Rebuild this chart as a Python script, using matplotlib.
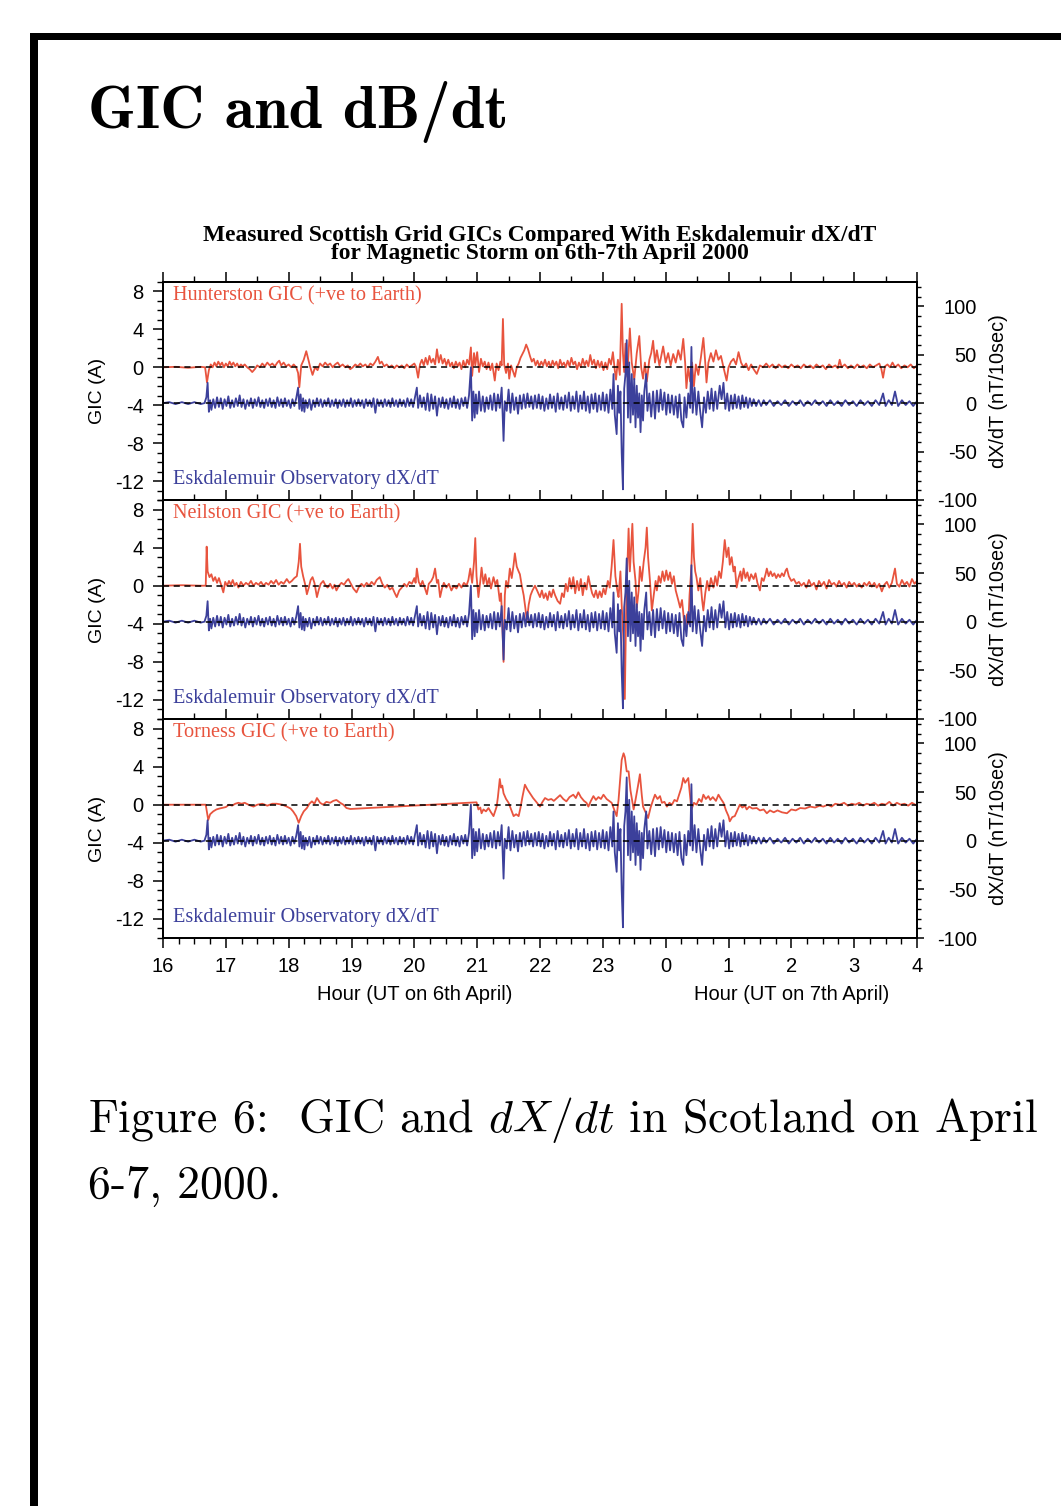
import numpy as np
import matplotlib
matplotlib.use('Agg')
import matplotlib.pyplot as plt
from matplotlib.patches import Rectangle
from matplotlib.ticker import MultipleLocator, FixedLocator
from matplotlib.transforms import blended_transform_factory

plt.rcParams['font.family'] = ['Liberation Sans', 'DejaVu Sans']
plt.rcParams['axes.unicode_minus'] = False
plt.rcParams['mathtext.fontset'] = 'cm'

RED = '#e8543e'
BLUE = '#3c409b'

# hour axis: 16..23 on 6th April, 0..4 on 7th April (stored as 16..28)
hour_ticks = list(range(16, 29))
hour_labels = ['16', '17', '18', '19', '20', '21', '22', '23', '0', '1', '2', '3', '4']
gic_ticks = [8, 4, 0, -4, -8, -12]
dxdt_ticks = [100, 50, 0, -50, -100]

site_names = ['Hunterston', 'Neilston', 'Torness']

# Eskdalemuir dX/dT (nT/10sec), (hour, value)
eskdalemuir = [
    (16.00, 0), (16.10, 1), (16.20, -1), (16.30, 1), (16.40, -1), (16.50, 1), (16.60, -1), (16.66, 0),
    (16.69, 6), (16.71, 21), (16.73, -9), (16.75, 3), (16.77, -7), (16.80, 4), (16.83, -5), (16.86, 6),
    (16.89, -4), (16.92, 5), (16.95, -6), (16.98, 4), (17.01, -3), (17.04, 7), (17.07, -5), (17.10, 3),
    (17.13, -4), (17.16, 5), (17.19, -3), (17.22, 8), (17.25, -4), (17.28, 4), (17.31, -6), (17.34, 3),
    (17.37, -3), (17.40, 5), (17.43, -5), (17.46, 4), (17.49, -3), (17.52, 6), (17.55, -4), (17.58, 3),
    (17.61, -5), (17.64, 4), (17.67, -3), (17.70, 5), (17.73, -4), (17.76, 3), (17.79, -5), (17.82, 6),
    (17.85, -3), (17.88, 4), (17.91, -4), (17.94, 5), (17.97, -3), (18.00, 3), (18.03, -5), (18.06, 4),
    (18.09, -3), (18.12, 5), (18.15, 16), (18.17, -6), (18.19, 9), (18.21, -8), (18.23, 5), (18.25, -9),
    (18.27, 3), (18.30, -5), (18.33, 4), (18.36, -7), (18.39, 3), (18.42, -4), (18.45, 5), (18.48, -3),
    (18.51, 4), (18.54, -4), (18.57, 3), (18.60, -3), (18.63, 5), (18.66, -4), (18.69, 3), (18.72, -3),
    (18.75, 4), (18.78, -5), (18.81, 3), (18.84, -3), (18.87, 4), (18.90, -4), (18.93, 3), (18.96, -3),
    (18.99, 5), (19.02, -4), (19.05, 3), (19.08, -3), (19.11, 4), (19.14, -3), (19.17, 3), (19.20, -5),
    (19.23, 4), (19.26, -3), (19.29, 3), (19.32, -4), (19.35, 5), (19.38, -10), (19.41, 4), (19.44, -3),
    (19.47, 3), (19.50, -4), (19.53, 4), (19.56, -3), (19.59, 3), (19.62, -4), (19.65, 5), (19.68, -3),
    (19.71, 3), (19.74, -4), (19.77, 4), (19.80, -3), (19.83, 3), (19.86, -4), (19.89, 5), (19.92, -3),
    (19.95, 4), (19.98, -4), (20.01, 6), (20.04, 16), (20.06, -5), (20.09, 8), (20.12, -4), (20.15, 6),
    (20.18, -7), (20.21, 10), (20.24, -8), (20.27, 9), (20.30, -6), (20.33, 7), (20.36, -13), (20.39, 5),
    (20.42, -4), (20.45, 6), (20.48, -5), (20.51, 4), (20.54, -6), (20.57, 5), (20.60, -4), (20.63, 7),
    (20.66, -5), (20.69, 4), (20.72, -6), (20.75, 5), (20.78, -3), (20.81, 6), (20.84, -5), (20.87, 8),
    (20.90, 37), (20.92, -18), (20.94, 12), (20.96, -15), (20.98, 9), (21.00, -11), (21.03, 12), (21.06, -8),
    (21.09, 7), (21.12, -9), (21.15, 6), (21.18, -6), (21.21, 8), (21.24, -7), (21.27, 10), (21.30, -8),
    (21.33, 9), (21.36, -5), (21.39, 16), (21.42, -39), (21.44, 2), (21.47, -8), (21.50, 14), (21.53, -10),
    (21.56, 10), (21.59, -7), (21.62, 6), (21.65, -11), (21.68, 8), (21.71, -6), (21.74, 9), (21.77, -5),
    (21.80, 10), (21.83, -4), (21.86, 7), (21.89, -6), (21.92, 8), (21.95, -5), (21.98, 9), (22.01, -6),
    (22.04, 7), (22.07, -8), (22.10, 5), (22.13, -6), (22.16, 9), (22.19, -5), (22.22, 7), (22.25, -9),
    (22.28, 10), (22.31, -6), (22.34, 6), (22.37, -7), (22.40, 8), (22.43, -5), (22.46, 11), (22.49, -8),
    (22.52, 7), (22.55, -6), (22.58, 12), (22.61, -9), (22.64, 8), (22.67, -6), (22.70, 12), (22.73, -8),
    (22.76, 7), (22.79, -10), (22.82, 9), (22.85, -6), (22.88, 10), (22.91, -9), (22.94, 8), (22.97, -7),
    (23.00, 11), (23.03, -8), (23.06, 9), (23.09, -10), (23.12, 14), (23.15, -6), (23.17, 30), (23.19, -12),
    (23.22, -32), (23.24, 18), (23.26, -10), (23.28, 12), (23.30, -51), (23.32, -89), (23.34, 15), (23.36, 30),
    (23.38, 65), (23.40, -15), (23.42, 42), (23.44, -20), (23.46, 30), (23.48, -12), (23.50, 25), (23.52, -25),
    (23.54, 18), (23.56, -15), (23.58, 10), (23.60, -30), (23.62, 8), (23.64, -18), (23.66, 12), (23.69, 30),
    (23.71, -8), (23.74, 10), (23.77, -14), (23.80, 12), (23.83, -16), (23.86, 13), (23.89, -9), (23.92, 14),
    (23.95, -7), (23.98, 11), (24.01, -12), (24.04, 9), (24.07, -10), (24.10, 8), (24.13, -12), (24.16, 7),
    (24.19, -15), (24.22, 9), (24.25, -18), (24.28, -25), (24.30, 6), (24.33, -15), (24.36, 10), (24.39, -5),
    (24.41, 58), (24.43, -10), (24.46, 16), (24.49, -12), (24.52, 12), (24.55, -9), (24.58, -25), (24.61, 6),
    (24.64, -10), (24.67, 12), (24.70, -6), (24.73, 15), (24.76, -8), (24.79, 12), (24.82, -6), (24.86, 18),
    (24.89, 4), (24.92, 21), (24.95, -6), (24.98, 10), (25.01, -8), (25.04, 8), (25.07, -6), (25.10, 9),
    (25.13, -5), (25.16, 7), (25.19, -6), (25.22, 8), (25.25, -4), (25.28, 6), (25.31, -5), (25.34, 5),
    (25.37, -3), (25.40, 4), (25.44, -3), (25.48, 3), (25.52, -3), (25.56, 3), (25.60, -2), (25.66, 3),
    (25.72, -3), (25.78, 2), (25.84, -2), (25.90, 3), (25.96, -3), (26.02, 2), (26.08, -2), (26.14, 3),
    (26.20, -3), (26.26, 2), (26.32, -2), (26.38, 3), (26.44, -2), (26.50, 2), (26.56, -3), (26.62, 3),
    (26.68, -2), (26.74, 2), (26.80, -3), (26.86, 3), (26.92, -2), (26.98, 2), (27.04, -3), (27.10, 3),
    (27.16, -2), (27.22, 2), (27.28, -3), (27.34, 3), (27.40, -2), (27.46, 10), (27.50, -3), (27.55, 3),
    (27.60, -2), (27.65, 12), (27.70, -3), (27.76, 3), (27.82, -2), (27.88, 2), (27.94, -3), (28.00, 2),
]

# Hunterston GIC (A)
hunterston = [
    (16.00, 0), (16.20, 0.05), (16.40, -0.05), (16.60, 0.05), (16.67, 0), (16.70, -1.6), (16.73, -0.3),
    (16.76, 0.3), (16.79, 0.0), (16.82, 0.5), (16.85, 0.1), (16.88, 0.6), (16.91, 0.2), (16.94, 0.5),
    (16.97, 0.0), (17.00, 0.4), (17.03, 0.1), (17.06, 0.6), (17.09, 0.2), (17.12, 0.5), (17.15, 0.1),
    (17.18, 0.4), (17.21, 0.0), (17.24, 0.3), (17.27, 0.1), (17.30, 0.3), (17.34, 0.0), (17.38, -0.2),
    (17.42, -0.5), (17.46, -0.2), (17.50, 0.2), (17.54, 0.0), (17.58, 0.4), (17.62, 0.1), (17.66, 0.5),
    (17.70, 0.2), (17.74, 0.4), (17.78, 0.1), (17.82, 0.5), (17.85, 0.7), (17.88, 0.2), (17.92, 0.5),
    (17.96, 0.1), (18.00, 0.3), (18.04, 0.0), (18.08, 0.3), (18.12, 0.0), (18.15, -0.6), (18.17, -2.1),
    (18.20, 0.2), (18.24, 0.8), (18.28, 1.7), (18.31, 0.9), (18.34, 0.1), (18.38, -0.8), (18.42, 0.0),
    (18.46, -0.3), (18.50, 0.4), (18.54, 0.1), (18.58, 0.5), (18.62, 0.2), (18.66, 0.4), (18.70, 0.0),
    (18.74, 0.3), (18.78, 0.5), (18.82, 0.1), (18.86, 0.3), (18.90, 0.0), (18.94, 0.2), (18.98, -0.2),
    (19.02, 0.0), (19.06, 0.3), (19.10, 0.1), (19.14, 0.4), (19.18, 0.1), (19.22, 0.3), (19.26, 0.0),
    (19.30, 0.4), (19.34, 0.2), (19.38, 0.6), (19.42, 1.1), (19.45, 0.4), (19.48, 0.6), (19.52, 0.1),
    (19.56, 0.3), (19.60, 0.0), (19.64, 0.2), (19.68, -0.1), (19.72, 0.2), (19.76, 0.0), (19.80, 0.2),
    (19.84, -0.1), (19.88, 0.3), (19.92, 0.0), (19.96, 0.2), (20.00, 0.4), (20.03, 0.0), (20.06, -1.1),
    (20.09, 0.3), (20.12, 0.8), (20.15, 0.2), (20.18, 1.0), (20.21, 0.3), (20.24, 1.2), (20.27, 0.5),
    (20.30, 0.9), (20.33, 0.3), (20.36, 1.9), (20.39, 0.5), (20.42, 1.3), (20.45, 0.4), (20.48, 0.9),
    (20.51, 0.2), (20.54, 0.8), (20.57, 0.1), (20.60, 0.5), (20.63, -0.1), (20.66, 0.6), (20.69, 0.1),
    (20.72, 0.5), (20.75, -0.2), (20.78, 0.7), (20.81, 0.0), (20.84, 0.8), (20.87, 0.3), (20.90, 2.1),
    (20.92, -0.9), (20.95, 1.5), (20.97, 0.2), (21.00, 1.6), (21.03, -0.5), (21.06, 0.9), (21.09, 0.1),
    (21.12, 0.6), (21.15, -0.2), (21.18, 0.5), (21.21, -0.3), (21.24, 0.4), (21.28, -1.4), (21.31, 0.4),
    (21.34, -0.3), (21.37, 0.6), (21.39, 0.2), (21.41, 5.1), (21.43, 0.3), (21.46, -0.6), (21.49, 0.4),
    (21.51, -1.2), (21.54, 0.2), (21.57, -0.4), (21.60, -1.0), (21.63, 0.0), (21.66, 0.4), (21.69, 1.0),
    (21.72, 1.4), (21.75, 1.8), (21.78, 2.4), (21.81, 1.9), (21.84, 1.2), (21.87, 0.6), (21.90, 0.9),
    (21.93, 0.2), (21.96, 0.7), (21.99, 0.1), (22.02, 0.6), (22.05, 0.2), (22.08, 0.8), (22.11, 0.1),
    (22.14, 0.6), (22.17, 0.0), (22.20, 0.7), (22.23, 0.2), (22.26, 0.6), (22.29, -0.1), (22.32, 0.8),
    (22.35, 0.2), (22.38, 0.5), (22.41, 0.0), (22.44, 0.7), (22.47, 0.1), (22.50, 1.0), (22.53, 0.3),
    (22.56, 0.6), (22.59, -0.2), (22.62, 0.5), (22.65, 0.0), (22.68, 0.9), (22.71, 0.2), (22.74, 0.7),
    (22.77, 0.1), (22.80, 1.3), (22.83, 0.3), (22.86, 0.8), (22.89, -0.1), (22.92, 0.7), (22.95, 0.0),
    (22.98, 0.6), (23.01, -0.3), (23.04, 0.5), (23.07, -0.2), (23.10, 0.9), (23.13, 0.3), (23.16, 1.6),
    (23.19, -0.3), (23.21, -1.3), (23.24, 0.8), (23.27, -0.8), (23.30, 6.7), (23.32, 1.5), (23.34, -0.5),
    (23.36, 2.5), (23.39, -1.0), (23.43, 4.1), (23.46, 0.5), (23.50, -1.3), (23.54, 1.5), (23.58, 3.3),
    (23.61, 0.0), (23.64, -1.2), (23.67, 0.5), (23.70, -1.5), (23.74, 0.8), (23.77, 1.5), (23.80, 2.8),
    (23.83, 0.5), (23.86, 1.8), (23.90, 0.2), (23.93, 1.2), (23.96, 2.2), (24.00, 0.5), (24.04, 1.5),
    (24.08, 0.2), (24.12, 1.4), (24.16, 0.5), (24.20, 1.8), (24.24, 0.8), (24.28, 3.0), (24.31, 0.5),
    (24.33, -2.2), (24.36, 0.0), (24.39, -1.5), (24.42, 0.5), (24.45, -2.0), (24.48, 0.3), (24.52, -0.8),
    (24.56, 1.0), (24.60, 3.1), (24.63, 0.5), (24.65, -1.6), (24.68, 0.5), (24.72, 1.5), (24.76, 0.6),
    (24.80, 1.8), (24.84, 0.8), (24.88, 1.2), (24.92, 0.0), (24.97, -1.4), (25.00, 0.0), (25.04, 0.6),
    (25.08, 0.9), (25.12, 0.3), (25.16, 1.6), (25.20, 0.5), (25.24, 0.0), (25.28, 0.4), (25.32, -0.3),
    (25.36, 0.3), (25.40, -0.2), (25.45, -0.7), (25.50, 0.2), (25.55, 0.0), (25.60, 0.4), (25.65, 0.0),
    (25.70, 0.3), (25.75, -0.1), (25.80, 0.3), (25.85, 0.0), (25.90, 0.2), (25.95, -0.1), (26.00, 0.3),
    (26.05, 0.0), (26.10, 0.2), (26.15, -0.1), (26.20, 0.3), (26.25, 0.0), (26.30, 0.2), (26.35, -0.1),
    (26.40, 0.3), (26.45, 0.0), (26.50, 0.2), (26.55, -0.2), (26.60, 0.3), (26.65, 0.0), (26.70, 0.2),
    (26.74, -0.1), (26.77, 0.8), (26.80, 0.0), (26.85, 0.3), (26.90, -0.1), (26.95, 0.2), (27.00, -0.1),
    (27.05, 0.3), (27.10, 0.0), (27.15, 0.2), (27.20, -0.1), (27.25, 0.3), (27.30, 0.0), (27.35, 0.2),
    (27.40, 0.4), (27.43, -0.1), (27.46, -1.1), (27.49, 0.1), (27.53, 0.3), (27.57, 0.0), (27.61, 0.5),
    (27.65, 0.0), (27.70, 0.3), (27.75, -0.1), (27.80, 0.2), (27.85, 0.0), (27.90, 0.3), (27.95, -0.1),
    (28.00, 0.2),
]

# Neilston GIC (A)
neilston = [
    (16.00, 0), (16.30, 0.05), (16.60, 0), (16.68, 0), (16.695, 4.1), (16.71, 1.5), (16.74, 0.9),
    (16.77, 1.2), (16.80, 0.5), (16.83, 0.9), (16.86, 0.3), (16.89, 0.8), (16.92, 0.2), (16.96, -0.7),
    (16.99, 0.4), (17.02, 0.0), (17.05, 0.5), (17.08, 0.1), (17.11, 0.6), (17.14, 0.0), (17.17, 0.3),
    (17.20, -0.2), (17.24, 0.4), (17.28, 0.0), (17.32, 0.3), (17.36, 0.1), (17.40, 0.5), (17.44, 0.0),
    (17.48, 0.3), (17.52, 0.1), (17.56, 0.4), (17.60, 0.0), (17.64, 0.3), (17.68, 0.1), (17.72, 0.5),
    (17.76, 0.2), (17.80, 0.6), (17.84, 0.1), (17.88, 0.4), (17.92, 0.2), (17.97, 0.7), (18.01, 0.3),
    (18.05, 0.5), (18.09, 0.8), (18.13, 1.0), (18.16, 2.5), (18.18, 4.4), (18.20, 2.0), (18.23, 1.0),
    (18.26, 0.2), (18.29, -0.9), (18.32, -0.2), (18.35, 0.6), (18.38, 0.9), (18.41, 0.3), (18.45, -1.2),
    (18.48, -0.4), (18.51, 0.2), (18.55, 0.5), (18.58, 0.1), (18.62, -0.2), (18.66, 0.2), (18.70, -0.3),
    (18.73, 0.1), (18.76, -0.5), (18.80, 0.0), (18.84, 0.3), (18.88, 0.1), (18.92, 0.5), (18.95, 0.7),
    (18.99, 0.2), (19.03, -0.3), (19.08, -0.7), (19.12, -0.1), (19.16, 0.2), (19.20, -0.1), (19.24, 0.3),
    (19.28, 0.0), (19.32, 0.4), (19.36, 0.1), (19.40, 0.6), (19.45, 0.9), (19.49, 0.2), (19.53, -0.2),
    (19.57, 0.1), (19.61, -0.4), (19.65, -0.2), (19.69, -0.8), (19.72, -1.2), (19.76, -0.5), (19.80, -0.2),
    (19.84, 0.2), (19.88, -0.1), (19.92, 0.4), (19.96, 0.2), (20.00, 0.8), (20.02, 0.3), (20.04, 1.8),
    (20.07, 0.4), (20.10, 0.0), (20.13, 0.5), (20.17, -0.3), (20.20, -0.9), (20.23, 0.2), (20.27, 0.5),
    (20.30, 0.9), (20.33, 1.8), (20.36, 0.3), (20.38, 0.6), (20.41, -1.2), (20.44, -0.3), (20.47, 0.3),
    (20.51, -0.2), (20.55, 0.2), (20.59, -0.5), (20.63, 0.0), (20.67, -0.3), (20.71, 0.2), (20.75, -0.2),
    (20.79, 0.3), (20.83, 0.0), (20.86, 0.6), (20.89, 1.8), (20.92, 0.3), (20.95, 2.5), (20.97, 5.0),
    (20.99, 1.0), (21.02, -1.2), (21.05, 0.5), (21.07, 1.9), (21.10, 0.2), (21.13, 1.2), (21.16, 0.0),
    (21.19, 0.8), (21.22, -0.3), (21.26, 0.9), (21.29, 0.1), (21.32, 0.6), (21.36, -1.6), (21.38, -0.8),
    (21.40, -4.0), (21.42, -8.0), (21.44, -1.0), (21.46, 0.5), (21.49, -0.2), (21.52, 1.8), (21.55, 0.8),
    (21.58, 2.2), (21.60, 3.4), (21.63, 2.0), (21.66, 1.5), (21.68, 1.2), (21.71, 0.0), (21.74, -1.0),
    (21.77, -2.5), (21.79, -3.7), (21.82, -2.0), (21.85, -1.0), (21.88, -0.5), (21.92, 0.0), (21.96, -0.6),
    (22.00, -1.2), (22.03, -0.5), (22.06, -1.3), (22.09, -0.8), (22.12, -1.5), (22.15, -0.6), (22.18, -1.2),
    (22.21, -0.4), (22.24, -1.0), (22.28, -1.6), (22.32, -1.9), (22.35, -0.8), (22.38, -1.2), (22.41, 0.2),
    (22.44, -0.6), (22.47, 0.8), (22.50, -0.3), (22.53, 0.9), (22.56, -0.8), (22.59, 0.5), (22.62, -0.5),
    (22.65, 0.7), (22.68, -1.0), (22.71, 0.3), (22.74, -0.4), (22.77, 1.0), (22.80, 0.0), (22.83, -0.8),
    (22.86, -1.2), (22.89, -0.5), (22.92, -1.3), (22.95, -0.6), (22.98, -1.2), (23.01, -0.3), (23.04, -0.9),
    (23.08, 0.5), (23.11, -0.2), (23.14, 2.0), (23.17, 4.8), (23.20, 1.0), (23.23, -0.5), (23.25, -1.2),
    (23.28, 1.5), (23.30, -2.0), (23.33, -6.0), (23.35, -11.9), (23.37, -3.0), (23.39, 2.0), (23.41, 6.0),
    (23.43, 1.5), (23.45, 4.0), (23.47, 6.5), (23.49, 2.5), (23.52, 0.5), (23.54, -2.3), (23.57, -0.5),
    (23.59, 2.0), (23.62, 0.5), (23.65, 2.5), (23.68, 4.0), (23.70, 6.1), (23.72, 3.0), (23.75, 0.5),
    (23.78, -2.6), (23.81, -1.0), (23.84, 0.5), (23.86, -0.5), (23.89, 1.0), (23.92, 0.3), (23.95, 1.5),
    (23.98, 0.5), (24.01, 1.6), (24.04, 0.6), (24.07, 1.4), (24.10, 0.2), (24.13, 1.0), (24.16, -0.5),
    (24.20, -1.5), (24.23, -2.3), (24.26, -1.5), (24.29, -3.5), (24.31, -4.6), (24.34, -3.0), (24.36, -4.0),
    (24.38, -1.0), (24.41, 2.0), (24.43, 6.5), (24.45, 3.0), (24.47, 1.5), (24.49, 0.9), (24.52, -0.5),
    (24.55, 0.8), (24.58, -1.5), (24.60, -2.6), (24.63, -0.8), (24.66, 0.5), (24.69, -0.5), (24.72, 0.8),
    (24.76, -0.2), (24.79, 1.0), (24.82, 0.0), (24.85, 1.5), (24.88, 0.8), (24.91, 2.5), (24.94, 4.8),
    (24.97, 3.0), (25.00, 4.0), (25.02, 2.2), (25.05, 3.0), (25.08, 1.5), (25.10, 2.0), (25.13, -0.2),
    (25.16, 0.8), (25.19, 1.5), (25.21, 0.5), (25.24, 1.8), (25.27, 0.8), (25.30, 1.4), (25.33, 0.5),
    (25.36, 1.2), (25.40, 0.7), (25.43, 1.3), (25.46, 0.3), (25.50, -0.5), (25.53, 0.8), (25.56, 0.5),
    (25.59, 1.2), (25.61, 1.8), (25.64, 1.0), (25.67, 1.5), (25.70, 1.0), (25.73, 1.3), (25.76, 0.8),
    (25.79, 1.2), (25.82, 0.9), (25.85, 1.3), (25.88, 1.0), (25.91, 1.6), (25.93, 1.8), (25.96, 1.0),
    (26.00, 0.5), (26.04, 0.7), (26.08, 0.2), (26.12, 0.4), (26.16, 0.0), (26.20, 0.3), (26.24, -0.2),
    (26.28, 0.6), (26.32, 0.0), (26.36, 0.3), (26.40, -0.4), (26.44, 0.5), (26.48, 0.0), (26.52, 0.4),
    (26.56, -0.3), (26.60, 0.6), (26.64, 0.1), (26.68, 0.3), (26.72, -0.1), (26.76, 0.5), (26.80, 0.0),
    (26.84, 0.3), (26.88, -0.2), (26.92, 0.4), (26.96, 0.0), (27.00, 0.3), (27.04, -0.1), (27.08, 0.2),
    (27.12, -0.2), (27.16, 0.3), (27.20, 0.0), (27.24, 0.4), (27.28, -0.1), (27.32, 0.3), (27.36, -0.2),
    (27.40, 0.2), (27.44, -0.6), (27.48, 0.1), (27.52, 0.4), (27.56, -0.2), (27.60, 0.3), (27.65, 1.8),
    (27.68, 0.2), (27.72, -0.1), (27.76, 0.6), (27.80, 0.1), (27.84, 0.4), (27.88, -0.1), (27.92, 0.7),
    (27.96, 0.2), (28.00, 0.5),
]

# Torness GIC (A), with the data gap 19-21 h bridged by a straight line
torness = [
    (16.00, 0), (16.30, 0.0), (16.60, 0.0), (16.68, 0.0), (16.70, -0.8), (16.72, -1.6), (16.75, -1.0),
    (16.80, -0.7), (16.85, -0.5), (16.90, -0.4), (17.00, -0.25), (17.05, 0.0), (17.10, -0.1), (17.15, 0.1),
    (17.20, 0.2), (17.25, 0.1), (17.30, 0.2), (17.36, 0.0), (17.44, -0.2), (17.50, 0.0), (17.58, 0.1),
    (17.66, -0.1), (17.74, 0.1), (17.81, 0.1), (17.90, 0.0), (17.97, -0.2), (18.03, -0.4), (18.07, -0.7),
    (18.12, -1.2), (18.16, -1.9), (18.20, -1.2), (18.24, -0.7), (18.29, -0.35), (18.33, 0.1), (18.37, 0.35),
    (18.41, 0.1), (18.45, 0.7), (18.50, 0.2), (18.55, 0.0), (18.60, 0.3), (18.66, 0.2), (18.71, 0.4),
    (18.76, 0.5), (18.82, 0.2), (18.87, 0.0), (18.92, -0.35), (18.98, -0.45), (20.99, 0.25), (21.02, -0.5),
    (21.05, -0.3), (21.07, -0.9), (21.10, -0.5), (21.14, -0.7), (21.18, -0.35), (21.22, -0.8), (21.26, -1.2),
    (21.29, -0.6), (21.31, -0.2), (21.33, 0.8), (21.36, 2.7), (21.38, 1.8), (21.40, 2.0), (21.42, 1.2),
    (21.46, 0.6), (21.50, 0.2), (21.54, -0.5), (21.58, -1.2), (21.62, -1.0), (21.66, -1.2), (21.69, -0.3),
    (21.72, 0.8), (21.76, 2.1), (21.80, 1.6), (21.84, 1.2), (21.89, 0.7), (21.94, 0.3), (22.00, -0.2),
    (22.04, 0.3), (22.08, 0.7), (22.13, 0.5), (22.18, 0.6), (22.22, 0.4), (22.27, 0.7), (22.32, 1.0),
    (22.37, 0.6), (22.42, 0.35), (22.47, 0.8), (22.53, 1.05), (22.57, 0.7), (22.61, 1.3), (22.65, 0.8),
    (22.70, 0.4), (22.74, 0.2), (22.77, -0.2), (22.81, 0.4), (22.85, 0.9), (22.89, 0.5), (22.93, 0.8),
    (22.97, 0.6), (23.01, 1.05), (23.06, 0.6), (23.10, 0.4), (23.14, 0.2), (23.18, -0.5), (23.22, -1.2),
    (23.25, 0.5), (23.28, 3.0), (23.30, 4.7), (23.33, 5.4), (23.35, 5.0), (23.38, 3.5), (23.41, 3.5),
    (23.44, 1.5), (23.47, 0.3), (23.49, -0.5), (23.52, 0.5), (23.56, 2.0), (23.59, 3.2), (23.62, 1.0),
    (23.64, -0.2), (23.68, -0.8), (23.72, -1.4), (23.76, -0.3), (23.80, 0.5), (23.83, 1.05), (23.87, 0.6),
    (23.91, 0.9), (23.94, 0.2), (23.98, 0.3), (24.02, -0.2), (24.06, 0.2), (24.10, 0.0), (24.14, 0.5),
    (24.18, 0.35), (24.22, 1.2), (24.25, 1.8), (24.28, 2.8), (24.31, 2.3), (24.34, 2.6), (24.36, 2.8),
    (24.38, 1.5), (24.41, -0.5), (24.45, 0.2), (24.49, 0.0), (24.53, 0.6), (24.57, 0.3), (24.60, 1.05),
    (24.64, 0.6), (24.68, 0.9), (24.71, 0.5), (24.75, 0.8), (24.80, 0.4), (24.84, 1.05), (24.88, 0.6),
    (24.92, 0.2), (24.96, -0.6), (25.00, -1.2), (25.02, -1.75), (25.06, -1.3), (25.10, -1.2), (25.14, -0.6),
    (25.18, 0.0), (25.22, -0.3), (25.26, -0.1), (25.29, -0.5), (25.33, -0.2), (25.38, -0.4), (25.45, -0.35),
    (25.50, -0.6), (25.56, -0.5), (25.61, -0.9), (25.66, -0.6), (25.72, -0.8), (25.78, -0.6), (25.85, -0.8),
    (25.93, -0.9), (26.00, -0.5), (26.07, -0.6), (26.14, -0.35), (26.22, -0.4), (26.30, -0.2), (26.38, -0.3),
    (26.45, -0.1), (26.51, -0.2), (26.58, 0.0), (26.64, -0.2), (26.70, 0.1), (26.77, 0.0), (26.84, 0.2),
    (26.90, -0.1), (26.96, 0.1), (27.02, 0.0), (27.08, 0.2), (27.14, -0.1), (27.20, 0.1), (27.26, 0.0),
    (27.32, 0.2), (27.38, -0.1), (27.44, 0.1), (27.50, 0.0), (27.56, 0.3), (27.62, -0.1), (27.68, 0.2),
    (27.74, 0.0), (27.80, 0.1), (27.86, -0.1), (27.92, 0.2), (28.00, -0.1),
]

gic_series = [hunterston, neilston, torness]

W, H = 1061, 1506


def px_box(x0, y0, x1, y1):
    return [x0 / W, 1 - y1 / H, (x1 - x0) / W, (y1 - y0) / H]


fig = plt.figure(figsize=(W / 100, H / 100), dpi=100)

# page frame (black bars top and left)
fig.add_artist(Rectangle((30 / W, 0), 8 / W, 1 - 33 / H, transform=fig.transFigure,
                         facecolor='black', edgecolor='none'))
fig.add_artist(Rectangle((30 / W, 1 - 40 / H), 1, 7 / H, transform=fig.transFigure,
                         facecolor='black', edgecolor='none'))

fig.text(88 / W, 1 - 112 / H, 'GIC and dB/dt', family='cmb10', fontsize=44, va='center')

fig.text(540 / W, 1 - 235 / H, 'Measured Scottish Grid GICs Compared With Eskdalemuir dX/dT',
         family='Liberation Serif', weight='bold', fontsize=16.9, ha='center', va='center')
fig.text(540 / W, 1 - 254 / H, 'for Magnetic Storm on 6th-7th April 2000',
         family='Liberation Serif', weight='bold', fontsize=16.9, ha='center', va='center')

bx, bv = np.array(eskdalemuir).T
panel_px = [(163, 282, 917, 500), (163, 500, 917, 719), (163, 719, 917, 938)]

for i, (name, pts, box) in enumerate(zip(site_names, gic_series, panel_px)):
    gx, gv = np.array(pts).T
    ax = fig.add_axes(px_box(*box))
    ax.plot(gx, gv, color=RED, lw=1.3)
    ax.set_xlim(16, 28)
    ax.set_ylim(-14, 9)

    ax2 = ax.twinx()
    ax2.plot(bx, bv, color=BLUE, lw=1.3)
    ax2.set_ylim(-100, 125)
    ax2.axhline(0, color='black', lw=1.1, ls=(0, (4, 3)))
    ax2.plot([0, 1], [0, 0], color='black', lw=1.1, ls=(0, (4, 3)),
             transform=blended_transform_factory(ax2.transAxes, ax.transData))

    for a in (ax, ax2):
        for s in a.spines.values():
            s.set_linewidth(1.3)

    # left GIC axis
    ax.set_yticks(gic_ticks)
    ax.yaxis.set_minor_locator(MultipleLocator(1))
    ax.tick_params(axis='y', which='major', direction='out', length=7, width=1.1,
                   labelsize=14.5, pad=7)
    ax.tick_params(axis='y', which='minor', direction='out', length=4, width=1.0)

    # right dX/dT axis
    ax2.set_yticks(dxdt_ticks)
    ax2.yaxis.set_minor_locator(MultipleLocator(10))
    ax2.tick_params(axis='y', which='major', direction='out', length=5, width=1.1,
                    labelsize=14.5, pad=38)
    ax2.tick_params(axis='y', which='minor', direction='out', length=3, width=1.0)
    for t in ax2.get_yticklabels():
        t.set_horizontalalignment('right')

    # hour ticks on top of every panel
    top = ax.secondary_xaxis('top')
    top.xaxis.set_major_locator(FixedLocator(hour_ticks))
    top.xaxis.set_minor_locator(MultipleLocator(0.5))
    top.tick_params(which='major', direction='out', length=7, width=1.1, labeltop=False)
    top.tick_params(which='minor', direction='out', length=4, width=1.0)
    top.spines['top'].set_linewidth(1.3)

    ax.set_xticks(hour_ticks)
    ax.xaxis.set_minor_locator(MultipleLocator(0.25))
    if i == len(site_names) - 1:
        ax.set_xticklabels(hour_labels)
        ax.tick_params(axis='x', which='major', direction='out', length=7, width=1.1,
                       labelsize=14.5, pad=7)
        ax.tick_params(axis='x', which='minor', direction='out', length=4, width=1.0)
        tr = blended_transform_factory(ax.transData, ax.transAxes)
        ax.text(20, -0.26, 'Hour (UT on 6th April)', transform=tr, ha='center', va='center',
                fontsize=14.5)
        ax.text(26, -0.26, 'Hour (UT on 7th April)', transform=tr, ha='center', va='center',
                fontsize=14.5)
    else:
        ax.tick_params(axis='x', which='both', bottom=False, labelbottom=False)

    ax.text(0.0133, 0.935, f'{name} GIC (+ve to Earth)', transform=ax.transAxes, color=RED,
            family='Liberation Serif', fontsize=14.6, va='center', ha='left')
    ax.text(0.0133, 0.095, 'Eskdalemuir Observatory dX/dT', transform=ax.transAxes, color=BLUE,
            family='Liberation Serif', fontsize=14.6, va='center', ha='left')

    yc = 1 - (box[1] + box[3]) / 2 / H
    fig.text(97 / W, yc, 'GIC (A)', rotation=90, ha='center', va='center', fontsize=14)
    fig.text(998 / W, yc, 'dX/dT (nT/10sec)', rotation=90, ha='center', va='center', fontsize=14.3)

fig.text(88 / W, 1 - 1120 / H, 'Figure 6:  GIC and $dX/dt$ in Scotland on April',
         family='cmr10', fontsize=33, va='center')
fig.text(88 / W, 1 - 1186 / H, '6-7, 2000.', family='cmr10', fontsize=33, va='center')

fig.savefig('out.png', dpi=100)
